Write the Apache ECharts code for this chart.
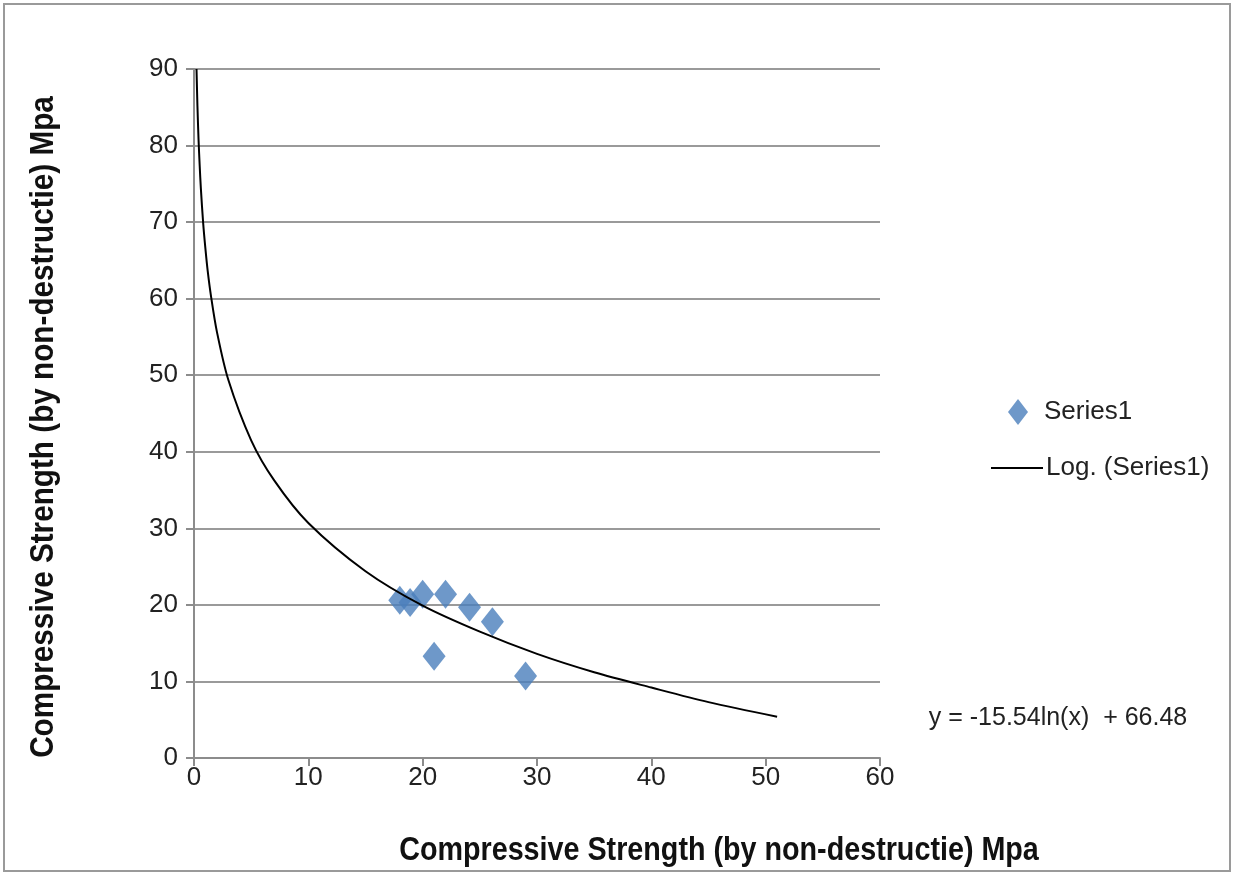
<!DOCTYPE html>
<html>
<head>
<meta charset="utf-8">
<title>Compressive Strength</title>
<script src="https://cdn.jsdelivr.net/npm/echarts@6/dist/echarts.min.js"></script>
<style>
  html, body { margin: 0; padding: 0; background: #fff; }
  #chart1 { width: 1236px; height: 876px; }
</style>
</head>
<body>
<div id="chart1"></div>
<script>
// measured points (x, y)
const strengthX = [18, 18.9, 20, 21, 22, 24.1, 26.1, 29];
const strengthY = [20.6, 20.3, 21.4, 13.3, 21.4, 19.7, 17.8, 10.7];

// log trend line
const trendX = [0.22, 0.3, 0.4, 0.5, 0.6, 0.8, 1, 1.2, 1.5, 2, 3, 5, 7, 10, 15, 20, 25, 30, 35, 40, 45, 51];
const trendY = [90, 85.2, 80.7, 77.3, 74.4, 69.9, 66.5, 63.6, 60.2, 55.7, 49.4, 41.5, 36.3, 30.7, 24.4, 19.9, 16.5, 13.6, 11.2, 9.2, 7.3, 5.4];

const xTicks = [0, 10, 20, 30, 40, 50, 60];
const yTicks = [0, 10, 20, 30, 40, 50, 60, 70, 80, 90];

const FONT = '"Liberation Sans Narrow", "Arial Narrow", "Liberation Sans", sans-serif';
const AXIS_TITLE = "Compressive Strength (by non-destructie) Mpa";

addEventListener("DOMContentLoaded", () => {
  const chart1 = echarts.init(document.getElementById("chart1"));

  const getOption = () => {
    return {
      animation: false,
      backgroundColor: "#fff",
      textStyle: { fontFamily: FONT },
      grid: { left: 194, right: 356, top: 69, bottom: 118 },
      xAxis: {
        type: "value",
        min: xTicks[0],
        max: xTicks[xTicks.length - 1],
        interval: 10,
        axisLine: { show: true, lineStyle: { color: "#8c8c8c", width: 2 } },
        axisTick: { show: true, length: 8, lineStyle: { color: "#8c8c8c", width: 2 } },
        axisLabel: { color: "#222", fontSize: 26, margin: 7, fontFamily: FONT },
        splitLine: { show: false },
      },
      yAxis: {
        type: "value",
        min: yTicks[0],
        max: yTicks[yTicks.length - 1],
        interval: 10,
        axisLine: { show: true, lineStyle: { color: "#8c8c8c", width: 2 } },
        axisTick: { show: true, inside: false, length: 8, lineStyle: { color: "#8c8c8c", width: 2 } },
        axisLabel: { color: "#222", fontSize: 26, margin: 16, fontFamily: FONT },
        splitLine: { show: true, lineStyle: { color: "#9a9a9a", width: 2 } },
      },
      legend: [
        {
          orient: "vertical",
          left: 1003,
          top: 394,
          itemWidth: 20,
          itemHeight: 26,
          itemGap: 0,
          textStyle: { fontSize: 26, color: "#222", fontFamily: FONT, padding: [0, 0, 0, 11] },
          data: [{ name: "Series1", icon: "diamond" }],
        },
        {
          orient: "vertical",
          left: 986,
          top: 450,
          itemWidth: 52,
          itemHeight: 2,
          textStyle: { fontSize: 26, color: "#222", fontFamily: FONT, padding: [0, 0, 0, -2] },
          data: [{ name: "Log. (Series1)", icon: "path://M0,0 H52 V2 H0 Z" }],
        },
      ],
      graphic: [
        {
          type: "rect",
          shape: { x: 4, y: 4, width: 1226, height: 867 },
          style: { fill: "none", stroke: "#9a9a9a", lineWidth: 2 },
          silent: true,
          z: -1,
        },
        {
          type: "text",
          x: 719,
          y: 851,
          scaleX: 0.87,
          style: {
            text: AXIS_TITLE,
            font: "bold 33px " + FONT,
            fill: "#111",
            align: "center",
            verticalAlign: "middle",
          },
        },
        {
          type: "text",
          x: 44,
          y: 427,
          rotation: Math.PI / 2,
          scaleX: 0.9,
          style: {
            text: AXIS_TITLE,
            font: "bold 33px " + FONT,
            fill: "#111",
            align: "center",
            verticalAlign: "middle",
          },
        },
        {
          type: "text",
          x: 1058,
          y: 718,
          style: {
            text: "y = -15.54ln(x)  + 66.48",
            font: "25px " + FONT,
            fill: "#222",
            align: "center",
            verticalAlign: "middle",
          },
        },
      ],
      series: [
        {
          name: "Log. (Series1)",
          type: "line",
          data: trendX.map((x, i) => [x, trendY[i]]),
          smooth: 0.3,
          showSymbol: false,
          symbol: "none",
          lineStyle: { color: "#000", width: 2 },
          itemStyle: { color: "#000" },
          z: 3,
        },
        {
          name: "Series1",
          type: "scatter",
          data: strengthX.map((x, i) => [x, strengthY[i]]),
          symbol: "diamond",
          symbolSize: [23, 29],
          itemStyle: { color: "#4a7ebb" },
          z: 2,
        },
      ],
    };
  };

  chart1.setOption(getOption());
});
</script>
</body>
</html>
